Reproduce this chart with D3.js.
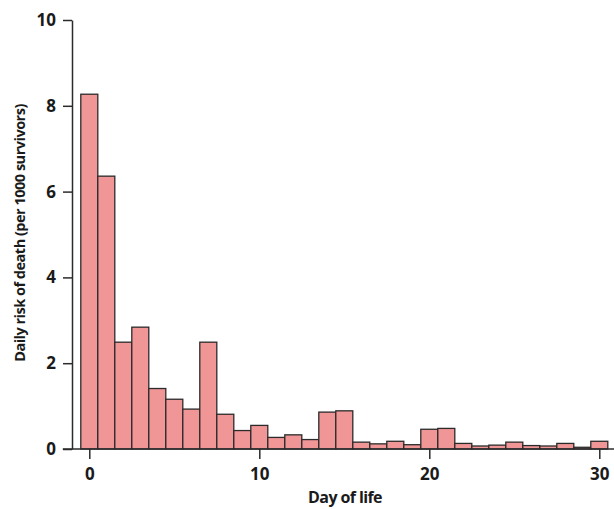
<!DOCTYPE html>
<html>
<head>
<meta charset="utf-8">
<script src="https://cdn.jsdelivr.net/npm/d3@7"></script>
<style>
  body { margin: 0; background: #fff; }
  text { font-family: "Open Sans", "Lato", sans-serif; font-weight: bold; fill: #1a1a1a; }
</style>
</head>
<body>
<svg id="chart" width="614" height="509"></svg>
<script>
// day of life 0..30
var days = d3.range(0, 31);
var risk = [8.27, 6.36, 2.49, 2.84, 1.41, 1.16, 0.93, 2.49, 0.81, 0.43,
            0.55, 0.27, 0.33, 0.22, 0.86, 0.89, 0.16, 0.12, 0.18, 0.10,
            0.46, 0.48, 0.13, 0.07, 0.09, 0.16, 0.08, 0.07, 0.13, 0.04, 0.18];
var xTicks = [0, 10, 20, 30];
var yTicks = [0, 2, 4, 6, 8, 10];

var svg = d3.select('#chart');
var x0 = 89.3, pxPerDay = 17;
var xScale = d3.scaleLinear()
    .domain([0, 30])
    .range([x0, x0 + 30 * pxPerDay]);
var yScale = d3.scaleLinear()
    .domain([0, 10])
    .range([449, 20]);

// bars
svg.append('g')
    .selectAll('rect')
    .data(days)
    .enter()
    .append('rect')
    .attr('x', function (d) { return xScale(d - 0.5); })
    .attr('width', pxPerDay)
    .attr('y', function (d) { return yScale(risk[d]); })
    .attr('height', function (d) { return yScale(0) - yScale(risk[d]); })
    .style('fill', '#f09697')
    .style('stroke', '#2b2b2b')
    .style('stroke-width', 1.3);

// y axis
var yAxis = d3.axisLeft(yScale)
    .tickValues(yTicks)
    .tickSize(9)
    .tickPadding(7)
    .tickSizeOuter(0);
var yg = svg.append('g')
    .attr('transform', 'translate(72,0)')
    .call(yAxis);
yg.select('.domain').style('stroke', '#2b2b2b').style('stroke-width', 1.5);
yg.selectAll('.tick line').style('stroke', '#2b2b2b').style('stroke-width', 1.5);
yg.selectAll('.tick text').style('font-size', '17px').attr('font-family', null);

// x axis
var xAxis = d3.axisBottom(xScale)
    .tickValues(xTicks)
    .tickSize(10)
    .tickPadding(9)
    .tickSizeOuter(0);
var xg = svg.append('g')
    .attr('transform', 'translate(0,449)')
    .call(xAxis);
xg.select('.domain')
    .attr('d', 'M' + xScale(-1.56) + ',0H' + xScale(30.9))
    .style('stroke', '#2b2b2b').style('stroke-width', 1.5);
xg.selectAll('.tick line').style('stroke', '#2b2b2b').style('stroke-width', 1.5);
xg.selectAll('.tick text').style('font-size', '17px').attr('font-family', null);

// axis titles
svg.append('text')
    .attr('x', 345)
    .attr('y', 503)
    .attr('text-anchor', 'middle')
    .style('font-size', '16px')
    .style('letter-spacing', '-0.6px')
    .text('Day of life');

svg.append('text')
    .attr('transform', 'translate(25,233) rotate(-90)')
    .attr('text-anchor', 'middle')
    .style('font-size', '14.5px')
    .style('letter-spacing', '-0.5px')
    .text('Daily risk of death (per 1000 survivors)');
</script>
</body>
</html>
